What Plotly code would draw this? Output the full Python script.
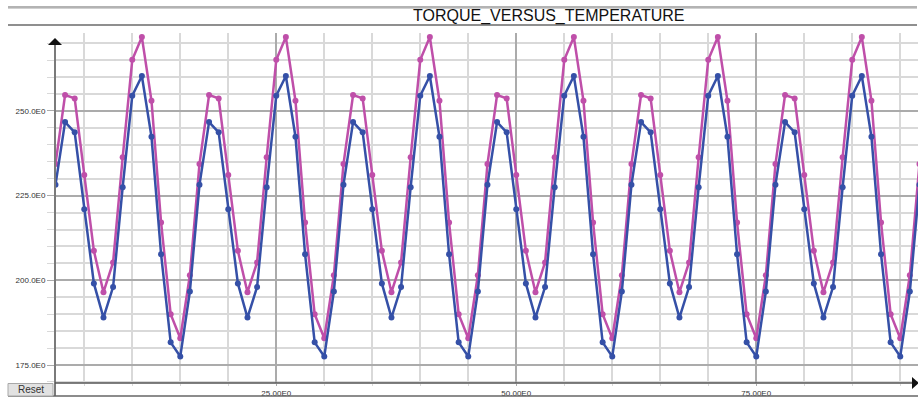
import plotly.graph_objects as go

# ---------------- data ----------------
temperature = [
    2, 3, 4, 5, 6, 7, 8, 9, 10, 11, 12, 13, 14, 15, 16,
    17, 18, 19, 20, 21, 22, 23, 24, 25, 26, 27, 28, 29, 30, 31,
    32, 33, 34, 35, 36, 37, 38, 39, 40, 41, 42, 43, 44, 45, 46,
    47, 48, 49, 50, 51, 52, 53, 54, 55, 56, 57, 58, 59, 60, 61,
    62, 63, 64, 65, 66, 67, 68, 69, 70, 71, 72, 73, 74, 75, 76,
    77, 78, 79, 80, 81, 82, 83, 84, 85, 86, 87, 88, 89, 90, 91,
    92,
]

torque_blue = [
    228.2, 246.7, 243.7, 221.0, 199.1, 189.0, 198.0, 227.5, 254.5, 260.3, 242.4, 207.7, 181.7, 177.5, 196.7,
    228.2, 246.7, 243.7, 221.0, 199.1, 189.0, 198.0, 227.5, 254.5, 260.3, 242.4, 207.7, 181.7, 177.5, 196.7,
    228.2, 246.7, 243.7, 221.0, 199.1, 189.0, 198.0, 227.5, 254.5, 260.3, 242.4, 207.7, 181.7, 177.5, 196.7,
    228.2, 246.7, 243.7, 221.0, 199.1, 189.0, 198.0, 227.5, 254.5, 260.3, 242.4, 207.7, 181.7, 177.5, 196.7,
    228.2, 246.7, 243.7, 221.0, 199.1, 189.0, 198.0, 227.5, 254.5, 260.3, 242.4, 207.7, 181.7, 177.5, 196.7,
    228.2, 246.7, 243.7, 221.0, 199.1, 189.0, 198.0, 227.5, 254.5, 260.3, 242.4, 207.7, 181.7, 177.5, 196.7,
    228.2,
]

torque_magenta = [
    234.3, 254.7, 253.7, 231.1, 208.7, 196.5, 205.3, 236.3, 265.1, 271.8, 253.0, 217.1, 190.0, 182.9, 201.5,
    234.3, 254.7, 253.7, 231.1, 208.7, 196.5, 205.3, 236.3, 265.1, 271.8, 253.0, 217.1, 190.0, 182.9, 201.5,
    234.3, 254.7, 253.7, 231.1, 208.7, 196.5, 205.3, 236.3, 265.1, 271.8, 253.0, 217.1, 190.0, 182.9, 201.5,
    234.3, 254.7, 253.7, 231.1, 208.7, 196.5, 205.3, 236.3, 265.1, 271.8, 253.0, 217.1, 190.0, 182.9, 201.5,
    234.3, 254.7, 253.7, 231.1, 208.7, 196.5, 205.3, 236.3, 265.1, 271.8, 253.0, 217.1, 190.0, 182.9, 201.5,
    234.3, 254.7, 253.7, 231.1, 208.7, 196.5, 205.3, 236.3, 265.1, 271.8, 253.0, 217.1, 190.0, 182.9, 201.5,
    234.3,
]

x_tick_vals = [25, 50, 75]
x_tick_labels = ["25.00E0", "50.00E0", "75.00E0"]
y_tick_vals = [175, 200, 225, 250]
y_tick_labels = ["175.0E0", "200.0E0", "225.0E0", "250.0E0"]

title_text = "TORQUE_VERSUS_TEMPERATURE"

# ---------------- geometry helpers ----------------
W, H = 918, 401
ML, MR, MT, MB = 55, 0, 33, 18
PW, PH = W - ML - MR, H - MT - MB


def fx(p):
    return (p - ML) / PW


def fy(p):
    return (H - MB - p) / PH


FONT = "Liberation Sans, Arial, sans-serif"

fig = go.Figure()
fig.add_trace(go.Scatter(
    x=temperature, y=torque_magenta, mode="lines+markers",
    line=dict(color="#bf4fa9", width=2.5), marker=dict(size=6, color="#bf4fa9"),
    name="magenta", hoverinfo="x+y",
))
fig.add_trace(go.Scatter(
    x=temperature, y=torque_blue, mode="lines+markers",
    line=dict(color="#3550a7", width=2.5), marker=dict(size=6, color="#3550a7"),
    name="blue", hoverinfo="x+y",
))

shapes = [
    # top strip lines
    dict(type="line", xref="paper", yref="paper", x0=fx(8), x1=fx(917), y0=fy(7), y1=fy(7),
         line=dict(color="#9a9a9a", width=1.5)),
    dict(type="line", xref="paper", yref="paper", x0=fx(8), x1=fx(917), y0=fy(8.5), y1=fy(8.5),
         line=dict(color="#d0d0d0", width=1)),
    dict(type="line", xref="paper", yref="paper", x0=fx(8), x1=fx(917), y0=fy(25), y1=fy(25),
         line=dict(color="#6a6a6a", width=1.5)),
    # y axis line
    dict(type="line", xref="paper", yref="paper", x0=fx(55), x1=fx(55), y0=fy(44), y1=fy(396),
         line=dict(color="#7a7a7a", width=2)),
    # x axis line
    dict(type="line", xref="paper", yref="paper", x0=fx(55), x1=fx(914), y0=fy(383), y1=fy(383),
         line=dict(color="#555555", width=1.5)),
    # bottom line
    dict(type="line", xref="paper", yref="paper", x0=fx(8), x1=fx(918), y0=fy(396), y1=fy(396),
         line=dict(color="#666666", width=1.5)),
    # y arrow head
    dict(type="path", xref="paper", yref="paper",
         path="M {} {} L {} {} L {} {} Z".format(fx(48), fy(45), fx(62), fy(45), fx(55), fy(38)),
         fillcolor="#111111", line=dict(color="#111111", width=0)),
    # x arrow head
    dict(type="path", xref="paper", yref="paper",
         path="M {} {} L {} {} L {} {} Z".format(fx(912), fy(377), fx(912), fy(389), fx(919), fy(383)),
         fillcolor="#111111", line=dict(color="#111111", width=0)),
    # reset button
    dict(type="rect", xref="paper", yref="paper", x0=fx(8), x1=fx(53), y0=fy(383.5), y1=fy(396),
         fillcolor="#e2e2e2", line=dict(color="#a8a8a8", width=1)),
]

annotations = [
    dict(text=title_text, xref="paper", yref="paper", x=fx(548), y=fy(16), showarrow=False,
         xanchor="center", yanchor="middle", font=dict(family=FONT, size=16, color="#111111")),
    dict(text="Reset", xref="paper", yref="paper", x=fx(30.5), y=fy(389.5), showarrow=False,
         xanchor="center", yanchor="middle", font=dict(family=FONT, size=10, color="#333333")),
]

fig.update_layout(
    width=W, height=H,
    margin=dict(l=ML, r=MR, t=MT, b=MB),
    paper_bgcolor="white", plot_bgcolor="white",
    showlegend=False,
    shapes=shapes, annotations=annotations,
    xaxis=dict(
        range=[1.95, 91.85], tickmode="array", tickvals=x_tick_vals, ticktext=x_tick_labels,
        showgrid=True, gridcolor="#ababab", gridwidth=1.5,
        ticks="outside", ticklen=2, tickcolor="#ababab",
        showline=False, zeroline=False,
        tickfont=dict(family=FONT, size=8, color="#333333"),
        minor=dict(tickmode="linear", tick0=0, dtick=5, showgrid=True, gridcolor="#d9d9d9",
                   gridwidth=1.5, ticks="outside", ticklen=2, tickcolor="#d9d9d9"),
    ),
    yaxis=dict(
        range=[169.7, 273.0], tickmode="array", tickvals=y_tick_vals, ticktext=y_tick_labels,
        showgrid=True, gridcolor="#ababab", gridwidth=1.5,
        ticks="outside", ticklen=7, tickcolor="#ababab",
        showline=False, zeroline=False,
        tickfont=dict(family=FONT, size=8, color="#333333"),
        minor=dict(tickmode="linear", tick0=0, dtick=5, showgrid=True, gridcolor="#d9d9d9",
                   gridwidth=1.5, ticks="outside", ticklen=7, tickcolor="#d9d9d9"),
    ),
)

fig.write_html(
    "out.html",
    config={"displayModeBar": False},
    post_script="document.body.style.margin='0';document.body.style.overflow='hidden';",
)
